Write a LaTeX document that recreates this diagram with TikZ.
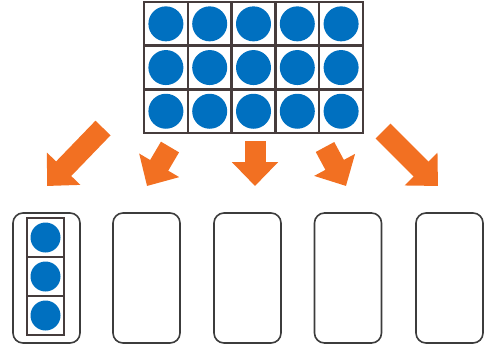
\documentclass[tikz,border=0pt]{standalone}
\usetikzlibrary{arrows.meta,positioning}
\definecolor{dotblue}{RGB}{0,112,192}
\definecolor{arrorange}{RGB}{242,112,34}
\definecolor{gridgray}{RGB}{70,60,60}
\definecolor{boxgray}{RGB}{60,60,60}
\begin{document}
\begin{tikzpicture}[x=0.5mm,y=-0.5mm,
  cell/.style={draw=gridgray,line width=1.2mm,minimum size=21.9mm,inner sep=0pt},
  smallcell/.style={draw=gridgray,line width=1mm,minimum width=18.5mm,minimum height=19.5mm,inner sep=0pt},
  dot/.style={circle,fill=dotblue,minimum size=#1,inner sep=0pt},
  bin/.style={draw=boxgray,line width=0.8mm,rounded corners=5mm,minimum width=33.5mm,minimum height=65mm,inner sep=0pt},
  bigarrow/.style={arrorange,line width=10.5mm,-{Triangle[length=12mm,width=22.5mm]}}]
\useasboundingbox (0,0) rectangle (489,347);
% top grid of 15 dots
\foreach \i in {1,...,5}
  \foreach \j in {1,...,3} {
    \node[cell] (c-\i-\j) at ({144+43.8*(\i-0.5)},{2+43.7*(\j-0.5)}) {};
    \node[dot=17.5mm] (d-\i-\j) at (c-\i-\j) {};
  }
% five boxes
\node[bin] (box1) at (46.5,278) {};
\node[bin] (box2) at (146.5,278) {};
\node[bin] (box3) at (247.5,278) {};
\node[bin] (box4) at (348,278) {};
\node[bin] (box5) at (449.5,278) {};
% first box holds three dots
\foreach \j in {1,2,3} {
  \node[smallcell] (s-\j) at (45.5,{218+39*(\j-0.5)}) {};
  \node[dot=15mm] (sd-\j) at (s-\j) {};
}
% arrows
\coordinate (t1) at (103,128); \coordinate (h1) at (47,186);
\coordinate (t2) at (170,147); \coordinate (h2) at (147,186);
\coordinate (t3) at (255,141); \coordinate (h3) at (255,186);
\coordinate (t4) at (325,147); \coordinate (h4) at (346,186);
\coordinate (t5) at (383,131); \coordinate (h5) at (438,186);
\foreach \k in {1,...,5}
  \draw[bigarrow] (t\k) -- (h\k);
\end{tikzpicture}
\end{document}
